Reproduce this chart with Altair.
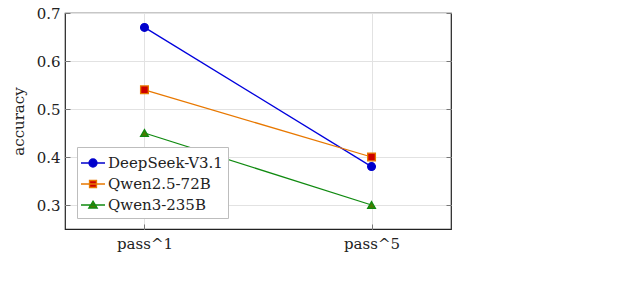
import altair as alt
import pandas as pd

models = ["DeepSeek-V3.1", "Qwen2.5-72B", "Qwen3-235B"]
tick_labels = ["pass^1", "pass^5"]
pass1 = [0.67, 0.54, 0.45]
pass5 = [0.38, 0.40, 0.30]

line_colors = ["#0000dd", "#e87800", "#108a10"]
fill_colors = ["#0000cc", "#cc0000", "#4a7a00"]
stroke_colors = ["#0000cc", "#e87800", "#108a10"]
legend_paths = [
    "M-1.2,0H1.2M0.4,0A0.4,0.4,0,1,1,-0.4,0A0.4,0.4,0,1,1,0.4,0Z",
    "M-1.2,0H1.2M-0.35,-0.35H0.35V0.35H-0.35Z",
    "M-1.2,0H1.2M0,-0.38L0.42,0.3H-0.42Z",
]

rows = []
for m, a, b in zip(models, pass1, pass5):
    rows.append({"model": m, "xi": 0, "acc": a})
    rows.append({"model": m, "xi": 1, "acc": b})
df = pd.DataFrame(rows)

FONT = "DejaVu Serif"
label_expr = "[" + ",".join("'" + t + "'" for t in tick_labels) + "][datum.value]"

xscale = alt.Scale(domain=[-0.35, 1.35], nice=False, zero=False)
yscale = alt.Scale(domain=[0.25, 0.7], nice=False, zero=False)

x_axis = alt.Axis(
    values=[0, 1], labelExpr=label_expr, title=None, offset=-5, tickSize=5,
    tickColor="#777777", domain=False, grid=True, gridColor="#e2e2e2",
    labelFont=FONT, labelFontSize=15, labelColor="#222222", labelPadding=7)
x_main = alt.X("xi:Q", scale=xscale, axis=x_axis)
y_main = alt.Y("acc:Q", scale=yscale, axis=alt.Axis(
    values=[0.3, 0.4, 0.5, 0.6, 0.7], format=".1f", title="accuracy",
    offset=-5, tickSize=5, tickColor="#777777", domain=False, grid=True,
    gridColor="#e2e2e2", labelFont=FONT, labelFontSize=15, labelColor="#222222",
    labelPadding=5, titleFont=FONT, titleFontSize=15, titleFontWeight="normal",
    titleColor="#222222", titlePadding=10))

base = alt.Chart(df)

lines = base.mark_line(strokeWidth=1.3).encode(
    x=x_main, y=y_main,
    color=alt.Color("model:N", scale=alt.Scale(domain=models, range=line_colors), legend=None),
    detail="model:N",
)

points = base.mark_point(filled=True, size=60, strokeWidth=1.3, opacity=1).encode(
    x=x_main,
    y=alt.Y("acc:Q", scale=yscale, axis=None),
    shape=alt.Shape("model:N", scale=alt.Scale(domain=models, range=["circle", "square", "triangle-up"]), legend=None),
    fill=alt.Fill("model:N", scale=alt.Scale(domain=models, range=fill_colors), legend=None),
    stroke=alt.Stroke("model:N", scale=alt.Scale(domain=models, range=stroke_colors), legend=None),
)

legend_layer = base.mark_point(filled=True, opacity=0, size=10).encode(
    x=x_main,
    y=alt.Y("acc:Q", scale=yscale, axis=None),
    shape=alt.Shape("model:N", scale=alt.Scale(domain=models, range=legend_paths),
                    legend=alt.Legend(title=None, orient="none", legendX=12, legendY=134,
                                      symbolSize=400, symbolStrokeWidth=1.3, symbolOpacity=1,
                                      labelFont=FONT, labelFontSize=15, labelColor="#222222",
                                      rowPadding=2, labelOffset=4, padding=5,
                                      strokeColor="#bdbdbd", fillColor="white",
                                      cornerRadius=0)),
    fill=alt.Fill("model:N", scale=alt.Scale(domain=models, range=fill_colors)),
    stroke=alt.Stroke("model:N", scale=alt.Scale(domain=models, range=stroke_colors)),
)

right_ticks = base.mark_line(opacity=0).encode(
    x=x_main,
    y=alt.Y("acc:Q", scale=yscale, axis=alt.Axis(
        orient="right", values=[0.3, 0.4, 0.5, 0.6, 0.7], labels=False, title=None,
        offset=-5, tickSize=5, tickColor="#777777", domain=False, grid=False)),
    detail="model:N",
)

chart = alt.layer(lines, points, legend_layer, right_ticks).resolve_scale(
    y="independent", shape="independent", fill="independent", stroke="independent"
).properties(
    width=386, height=216,
    autosize=alt.AutoSizeParams(type="none"),
    padding={"left": 65, "top": 13, "right": 172, "bottom": 61},
    background="white",
).configure(font=FONT
).configure_view(stroke="#222222", strokeWidth=1.2
).configure_legend(labelFont=FONT, labelFontSize=15, labelColor="#222222")

chart.save("out.html", embed_options={"renderer": "svg", "actions": False})
